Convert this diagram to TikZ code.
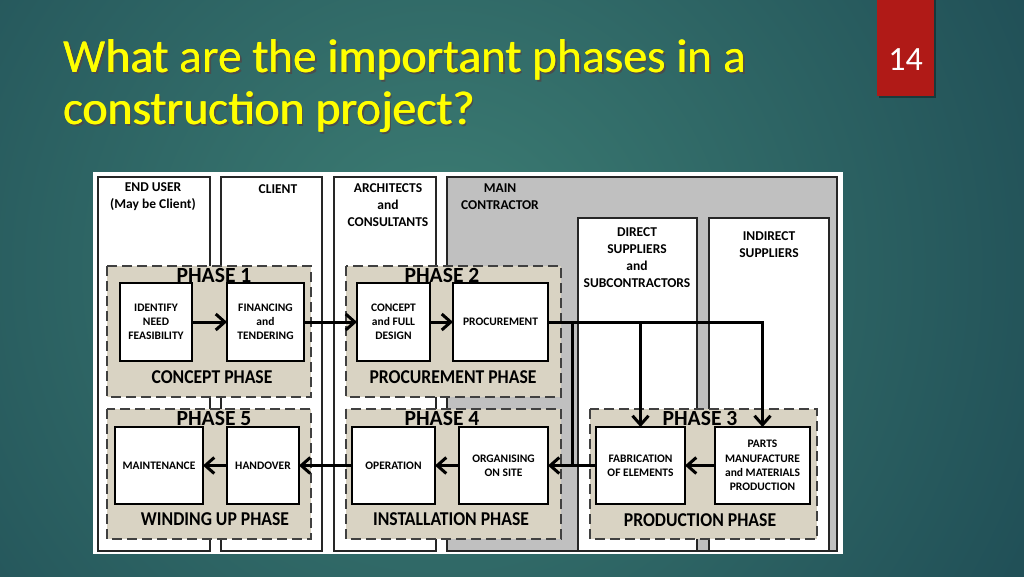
\documentclass[tikz,border=0pt]{standalone}
\usepackage{fontspec}
\usepackage{graphicx}
\setmainfont{Carlito}
\usetikzlibrary{arrows.meta}
\definecolor{bgout}{HTML}{163E4C}
\definecolor{bgin}{HTML}{3D7E74}
\definecolor{tanfill}{HTML}{D9D3C3}
\definecolor{mcgray}{HTML}{C0C0C0}
\definecolor{pagered}{HTML}{B01A17}
\definecolor{titley}{HTML}{FFFF00}
\newcommand{\cnd}[1]{\scalebox{0.9}[1]{#1}}
\begin{document}
\begin{tikzpicture}[x=1pt,y=-1pt,
  col/.style={draw=black!85,line width=1.4pt,fill=white},
  phasebox/.style={draw=black!75,line width=2pt,dash pattern=on 10pt off 5pt,fill=tanfill},
  ibox/.style={draw=black,line width=1.6pt,fill=white,inner sep=0pt,outer sep=0pt,align=center,
    font=\fontsize{11.5}{14.2}\selectfont\bfseries},
  hdr/.style={align=center,font=\fontsize{13.5}{17}\selectfont\bfseries,inner sep=0pt},
  phtitle/.style={font=\fontsize{21.6}{22}\selectfont\bfseries,inner sep=0pt},
  phname/.style={font=\fontsize{19.6}{20}\selectfont\bfseries,inner sep=0pt},
  arr/.style={line width=3pt,-{Straight Barb[length=9pt,width=16pt]}},
  plainline/.style={line width=3pt},
  titletext/.style={font=\fontsize{47.5}{52}\selectfont,inner sep=0pt,anchor=base west}
]
\useasboundingbox (0,0) rectangle (1024,576);
\clip (0,0) rectangle (1024,576);
% background
\fill[bgout] (0,0) rectangle (1024,576);
\shade[inner color=bgin,outer color=bgout] (440,270) circle (900);
% page number
\fill[black,opacity=0.35] (879,0) rectangle (936,98);
\fill[pagered] (877,0) rectangle (934,96);
\node[text=white,font=\fontsize{34}{36}\selectfont,inner sep=0pt] (pnum) at (905.5,60) {14};
% title
\node[titletext,text=black!70] (t1s) at (65,74) {What are the important phases in a};
\node[titletext,text=black!70] (t2s) at (65,126) {construction project?};
\node[titletext,text=titley] (t1b) at (63.6,72) {What are the important phases in a};
\node[titletext,text=titley] (t2b) at (63.6,124) {construction project?};
\node[titletext,text=titley] (t1) at (63,72) {What are the important phases in a};
\node[titletext,text=titley] (t2) at (63,124) {construction project?};
% image frame
\fill[white] (93,172) rectangle (843,554);
% columns
\draw[col] (98,177) rectangle (210,551);
\draw[col] (221,177) rectangle (322,551);
\draw[col] (334,177) rectangle (436,551);
\draw[col,fill=mcgray] (447,177) rectangle (837,551);
\draw[col] (578,218) rectangle (697,551);
\draw[col] (709,218) rectangle (829,551);
\node[hdr] (hEnd) at (153,197) {END USER\\(May be Client)};
\node[hdr] (hClient) at (278,189) {CLIENT};
\node[hdr] (hArch) at (388,205) {ARCHITECTS\\and\\CONSULTANTS};
\node[hdr] (hMain) at (500,197) {MAIN\\CONTRACTOR};
\node[hdr] (hDirect) at (637,258) {DIRECT\\SUPPLIERS\\and\\SUBCONTRACTORS};
\node[hdr] (hIndirect) at (769,245) {INDIRECT\\SUPPLIERS};
% phase boxes
\draw[phasebox] (107,266) rectangle (311,397);
\draw[phasebox] (346,266) rectangle (561,397);
\draw[phasebox] (107,409) rectangle (311,539);
\draw[phasebox] (346,409) rectangle (561,539);
\draw[phasebox] (590,409) rectangle (817,539);
\node[phtitle] (p1) at (214,275) {PHASE 1};
\node[phtitle] (p2) at (442,275) {PHASE 2};
\node[phtitle] (p5) at (214,418) {PHASE 5};
\node[phtitle] (p4) at (442,418) {PHASE 4};
\node[phtitle] (p3) at (700,418) {PHASE 3};
\node[phname] (n1) at (212,377) {\cnd{CONCEPT PHASE}};
\node[phname] (n2) at (453,377) {\cnd{PROCUREMENT PHASE}};
\node[phname] (n5) at (215,519) {\cnd{WINDING UP PHASE}};
\node[phname] (n4) at (451,519) {\cnd{INSTALLATION PHASE}};
\node[phname] (n3) at (700,520) {\cnd{PRODUCTION PHASE}};
% inner boxes
\node[ibox,minimum width=72pt,minimum height=78pt] (ident) at (156,322) {IDENTIFY\\NEED\\FEASIBILITY};
\node[ibox,minimum width=77pt,minimum height=78pt] (fin) at (265.5,322) {FINANCING\\and\\TENDERING};
\node[ibox,minimum width=73pt,minimum height=78pt] (conc) at (393.5,322) {CONCEPT\\and FULL\\DESIGN};
\node[ibox,minimum width=95pt,minimum height=78pt] (proc) at (500.5,322) {PROCUREMENT};
\node[ibox,minimum width=88pt,minimum height=77pt] (maint) at (159,465.5) {MAINTENANCE};
\node[ibox,minimum width=72pt,minimum height=77pt] (hand) at (263,465.5) {HANDOVER};
\node[ibox,minimum width=83pt,minimum height=77pt] (oper) at (393.5,465.5) {OPERATION};
\node[ibox,minimum width=89pt,minimum height=77pt] (org) at (503.5,465.5) {ORGANISING\\ON SITE};
\node[ibox,minimum width=89pt,minimum height=77pt] (fab) at (640.5,465.5) {FABRICATION\\OF ELEMENTS};
\node[ibox,minimum width=95pt,minimum height=77pt] (parts) at (762.5,465.5) {PARTS\\MANUFACTURE\\and MATERIALS\\PRODUCTION};
% connectors
\draw[arr] (ident.east) -- (fin.west);
\draw[arr] (fin.east) -- (conc.west);
\draw[arr] (conc.east) -- (proc.west);
\draw[arr] (proc.east) -| (parts.north);
\draw[arr] (fab.north |- proc.east) -- (fab.north);
\coordinate (junc) at (572,322);
\draw[plainline] (junc) -- (junc |- fab.west);
\draw[arr] (parts.west) -- (fab.east);
\draw[arr] (fab.west) -- (org.east);
\draw[arr] (org.west) -- (oper.east);
\draw[arr] (oper.west) -- (hand.east);
\draw[arr] (hand.west) -- (maint.east);
\end{tikzpicture}
\end{document}
